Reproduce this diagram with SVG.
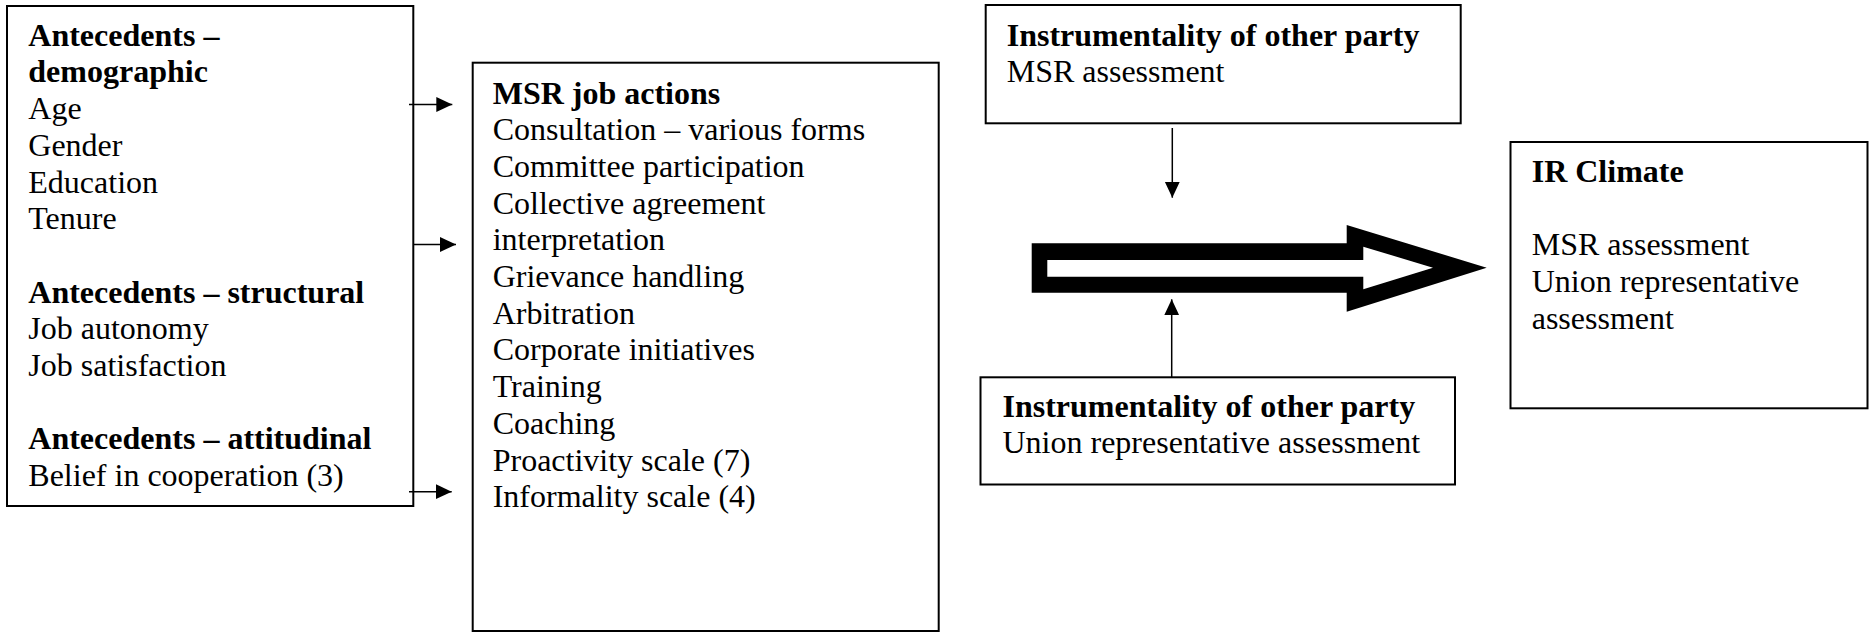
<svg xmlns="http://www.w3.org/2000/svg" width="1874" height="632" viewBox="0 0 1874 632">
  <style>
    .box { fill: #ffffff; stroke: #000000; stroke-width: 2; }
    .t { font-family: "Liberation Serif", "Times New Roman", serif; font-size: 32px; fill: #000000; }
    .b { font-weight: bold; }
    .conn { stroke: #000000; stroke-width: 1.5; fill: none; marker-end: url(#ah); }
  </style>
  <defs>
    <marker id="ah" markerUnits="userSpaceOnUse" markerWidth="17" markerHeight="16" refX="16" refY="7.5" orient="auto">
      <path d="M0,0 L16,7.5 L0,15 Z" fill="#000000"/>
    </marker>
  </defs>
  <rect width="1874" height="632" fill="#ffffff"/>

  <g id="antecedents">
    <rect class="box" x="7" y="6" width="406.3" height="500"/>
    <text class="t">
      <tspan class="b" x="28.3" y="45.7">Antecedents –</tspan>
      <tspan class="b" x="28.3" y="82.4">demographic</tspan>
      <tspan x="28.3" y="119.1">Age</tspan>
      <tspan x="28.3" y="155.8">Gender</tspan>
      <tspan x="28.3" y="192.5">Education</tspan>
      <tspan x="28.3" y="229.2">Tenure</tspan>
      <tspan class="b" x="28.3" y="302.6">Antecedents – structural</tspan>
      <tspan x="28.3" y="339.3">Job autonomy</tspan>
      <tspan x="28.3" y="376">Job satisfaction</tspan>
      <tspan class="b" x="28.3" y="449.4">Antecedents – attitudinal</tspan>
      <tspan x="28.3" y="486.1">Belief in cooperation (3)</tspan>
    </text>
  </g>

  <g id="msr-job-actions">
    <rect class="box" x="472.7" y="62.7" width="466" height="568.3"/>
    <text class="t">
      <tspan class="b" x="492.7" y="103.5">MSR job actions</tspan>
      <tspan x="492.7" y="140.2">Consultation – various forms</tspan>
      <tspan x="492.7" y="176.9">Committee participation</tspan>
      <tspan x="492.7" y="213.6">Collective agreement</tspan>
      <tspan x="492.7" y="250.3">interpretation</tspan>
      <tspan x="492.7" y="287">Grievance handling</tspan>
      <tspan x="492.7" y="323.7">Arbitration</tspan>
      <tspan x="492.7" y="360.4">Corporate initiatives</tspan>
      <tspan x="492.7" y="397.1">Training</tspan>
      <tspan x="492.7" y="433.8">Coaching</tspan>
      <tspan x="492.7" y="470.5">Proactivity scale (7)</tspan>
      <tspan x="492.7" y="507.2">Informality scale (4)</tspan>
    </text>
  </g>

  <g id="instrumentality-msr">
    <rect class="box" x="985.7" y="5" width="475" height="118.3"/>
    <text class="t">
      <tspan class="b" x="1006.7" y="45.7">Instrumentality of other party</tspan>
      <tspan x="1006.7" y="82.4">MSR assessment</tspan>
    </text>
  </g>

  <g id="instrumentality-union">
    <rect class="box" x="980.5" y="377.3" width="474.5" height="107.2"/>
    <text class="t">
      <tspan class="b" x="1002.5" y="416.7">Instrumentality of other party</tspan>
      <tspan x="1002.5" y="453.4">Union representative assessment</tspan>
    </text>
  </g>

  <g id="ir-climate">
    <rect class="box" x="1510.5" y="142" width="357" height="266.3"/>
    <text class="t">
      <tspan class="b" x="1531.7" y="181.7">IR Climate</tspan>
      <tspan x="1531.7" y="255.1">MSR assessment</tspan>
      <tspan x="1531.7" y="291.8">Union representative</tspan>
      <tspan x="1531.7" y="328.5">assessment</tspan>
    </text>
  </g>

  <g id="connectors">
    <line class="conn" x1="409" y1="104.5" x2="452.3" y2="104.5"/>
    <line class="conn" x1="413.3" y1="244.5" x2="456" y2="244.5"/>
    <line class="conn" x1="409" y1="491.7" x2="451.7" y2="491.7"/>
    <line class="conn" x1="1172.3" y1="128" x2="1172.3" y2="197.7"/>
    <line class="conn" x1="1171.7" y1="377.3" x2="1171.7" y2="299.3"/>
    <g id="block-arrow">
      <polygon points="1031.7,243.3 1346.7,243.3 1346.7,225 1486.7,267.7 1346.7,311.7 1346.7,292.7 1031.7,292.7" fill="#000000"/>
      <polygon points="1047.3,260 1363.3,260 1363.3,246.7 1433,267.7 1363.3,289.3 1363.3,276.7 1047.3,276.7" fill="#ffffff"/>
    </g>
  </g>
</svg>
